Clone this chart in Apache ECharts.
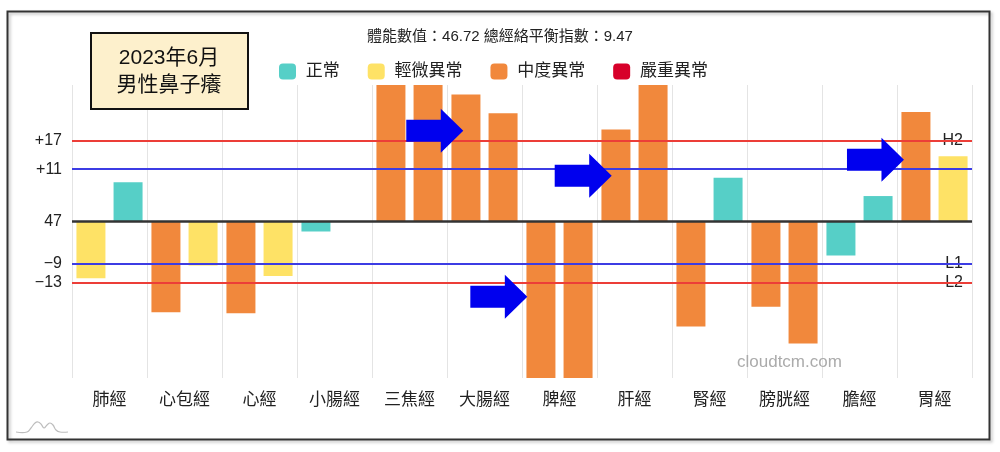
<!DOCTYPE html>
<html><head><meta charset="utf-8">
<script src="https://cdn.jsdelivr.net/npm/echarts@6/dist/echarts.min.js"></script>
<style>html,body{margin:0;padding:0;background:#fff}#c{width:1000px;height:452px}</style>
</head><body><div id="c"></div>
<script>
// ---- data (deviation from baseline 47) ----
const CATEGORIES = ['肺經','心包經','心經','小腸經','三焦經','大腸經','脾經','肝經','腎經','膀胱經','膽經','胃經'];
const LEFT_VALUES  = [-12.1, -19.3, -19.5, -2.2, 34, 26.8, -36, 19.4, -22.3, -18.1, -7.3, 23.1];
const RIGHT_VALUES = [8.2, -9.4, -11.6, 0, 34, 22.8, -36, 34, 9.2, -25.9, 5.3, 13.7];
const H2 = 17, H1 = 11, L1 = -9, L2 = -13;
const LEFT_TICKS = [17, 11, 0, -9, -13];
const LEFT_TICK_LABELS = ['+17', '+11', '47', '−9', '−13'];
const RIGHT_TICKS = [17, 11, -9, -13];
const RIGHT_TICK_LABELS = ['H2', 'H1', 'L1', 'L2'];
const STATUS_NAMES = ['正常', '輕微異常', '中度異常', '嚴重異常'];
const STATUS_COLORS = ['#56CFC7', '#FEE266', '#F1883C', '#D7002A'];
const SUMMARY = '體能數值：46.72 總經絡平衡指數：9.47';
const BOX_TEXT = '2023年6月\n男性鼻子癢';
const WATERMARK = 'cloudtcm.com';
// arrow annotations: [category index, value at arrow tip, tip position within category band]
const ARROWS = [[5, 19.1, 0.217], [7, 9.6, 0.196], [11, 13.0, 0.093], [6, -16.0, 0.071]];

const FONT = '"Liberation Sans", "Noto Sans CJK TC", sans-serif';
const RED = '#EC3E38', BLUE = '#3C3CE4';

function statusColor(v) {
  if (v > H2 || v < L2) return STATUS_COLORS[2];
  if (v > H1 || v < L1) return STATUS_COLORS[1];
  return STATUS_COLORS[0];
}

const chart = echarts.init(document.getElementById('c'), null, {renderer: 'canvas'});

const barCommon = {
  type: 'bar', barWidth: 29, barGap: '28%', clip: true,
  itemStyle: {color: p => statusColor(p.value)}
};

const option = {
  animation: false,
  textStyle: {fontFamily: FONT},
  title: {
    text: SUMMARY, left: 'center', top: 29, padding: 0,
    textStyle: {fontSize: 15, fontWeight: 'normal', color: '#222', fontFamily: FONT}
  },
  legend: {
    data: STATUS_NAMES.map(n => ({name: n, icon: 'roundRect'})),
    left: 279, top: 63, padding: 0, itemWidth: 17, itemHeight: 16, itemGap: 28,
    formatter: ' {name}', selectedMode: false,
    textStyle: {fontSize: 17, color: '#222', fontFamily: FONT}
  },
  grid: {left: 72, right: 28, top: 85, bottom: 74, containLabel: false},
  xAxis: {
    type: 'category', data: CATEGORIES,
    axisLine: {show: false}, axisTick: {show: false, interval: 0},
    splitLine: {show: true, interval: 0, lineStyle: {color: '#e4e4e4', width: 1}},
    axisLabel: {interval: 0, fontSize: 17, color: '#222', margin: 14, fontFamily: FONT}
  },
  yAxis: [{
    type: 'value', min: -33.2, max: 28.8, position: 'left',
    splitLine: {show: false}, axisLine: {show: false}, axisTick: {show: false},
    axisLabel: {
      customValues: LEFT_TICKS,
      formatter: v => { const i = LEFT_TICKS.indexOf(Math.round(v)); return i >= 0 ? LEFT_TICK_LABELS[i] : ''; },
      fontSize: 16, color: '#222', margin: 10, fontFamily: FONT
    }
  }, {
    type: 'value', min: -33.2, max: 28.8, position: 'right',
    splitLine: {show: false}, axisLine: {show: false}, axisTick: {show: false},
    axisLabel: {
      inside: true, customValues: RIGHT_TICKS,
      formatter: v => { const i = RIGHT_TICKS.indexOf(Math.round(v)); return i >= 0 ? RIGHT_TICK_LABELS[i] : ''; },
      fontSize: 16, color: '#222', margin: 9, fontFamily: FONT
    }
  }],
  series: [
    Object.assign({}, barCommon, {
      name: '左', data: LEFT_VALUES,
      markLine: {
        silent: true, symbol: ['none', 'none'], label: {show: false}, z: 5,
        data: [
          {yAxis: H2, lineStyle: {color: RED, width: 2, type: 'solid'}},
          {yAxis: H1, lineStyle: {color: BLUE, width: 2, type: 'solid'}},
          {yAxis: 0, lineStyle: {color: '#333', width: 2.5, type: 'solid'}},
          {yAxis: L1, lineStyle: {color: BLUE, width: 2, type: 'solid'}},
          {yAxis: L2, lineStyle: {color: RED, width: 2, type: 'solid'}}
        ]
      }
    }),
    Object.assign({}, barCommon, {name: '右', data: RIGHT_VALUES}),
    ...STATUS_NAMES.map((n, i) => ({type: 'scatter', name: n, data: [], itemStyle: {color: STATUS_COLORS[i], opacity: 1}})),
    {
      type: 'custom', name: 'arrows', z: 20, silent: true,
      data: ARROWS,
      renderItem: (params, api) => {
        const c = api.coord([api.value(0), api.value(1)]);
        const bw = api.size([1, 0])[0];
        const tx = c[0] - bw / 2 + api.value(2) * bw, ty = c[1];
        const L = 57, HL = 22.5, BH = 11, HH = 22;
        return {
          type: 'polygon',
          shape: {points: [[tx - L, ty - BH], [tx - HL, ty - BH], [tx - HL, ty - HH], [tx, ty], [tx - HL, ty + HH], [tx - HL, ty + BH], [tx - L, ty + BH]]},
          style: {fill: '#0000EE'}
        };
      }
    }
  ],
  graphic: [
    {type: 'rect', z: 0, shape: {x: 7.5, y: 11.5, width: 982, height: 428},
     style: {fill: 'none', stroke: '#333', lineWidth: 2, shadowBlur: 3, shadowColor: 'rgba(0,0,0,0.25)', shadowOffsetX: 2, shadowOffsetY: 2}},
    {type: 'rect', z: 50, shape: {x: 91, y: 33, width: 157, height: 76},
     style: {fill: '#FDF0CC', stroke: '#111', lineWidth: 2}},
    {type: 'text', z: 51, style: {text: BOX_TEXT, x: 169, y: 71.5, align: 'center', verticalAlign: 'middle',
      font: '21px ' + FONT, lineHeight: 27, fill: '#111'}},
    {type: 'text', z: 51, style: {text: WATERMARK, x: 737, y: 362, align: 'left', verticalAlign: 'middle',
      font: '17px ' + FONT, fill: '#ababab'}},
    {type: 'polyline', z: 51, shape: {smooth: 0.4, points: [[16, 432], [27, 432], [31, 428], [35, 423], [38, 422], [41, 424], [44, 428], [47, 425], [50, 423], [53, 425], [56, 430], [60, 432], [68, 432]]},
     style: {stroke: '#bdbdbd', lineWidth: 1.2, fill: 'none'}}
  ]
};
chart.setOption(option);
</script></body></html>
